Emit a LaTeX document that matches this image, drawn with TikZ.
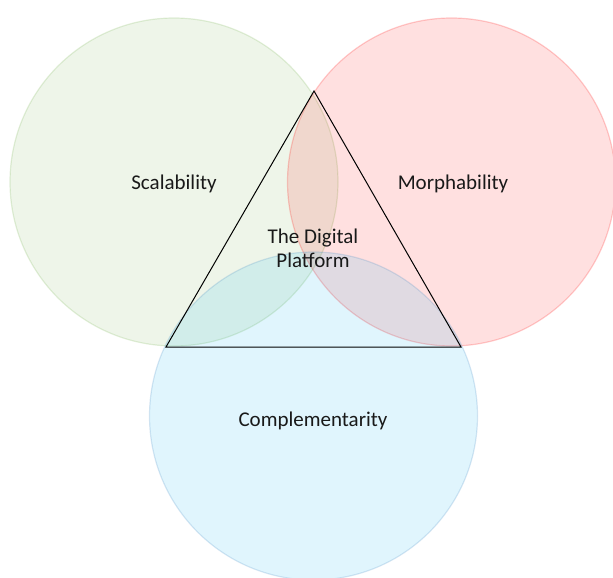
\documentclass[tikz,border=0pt]{standalone}
\usepackage{fontspec}
\setmainfont{Carlito}
\definecolor{cgreen}{RGB}{112,173,71}
\definecolor{cred}{RGB}{255,0,0}
\definecolor{cblue}{RGB}{0,176,240}
\definecolor{cblueline}{RGB}{60,130,190}
\begin{document}
\begin{tikzpicture}[x=1pt,y=-1pt,
  venn/.style={circle, minimum size=328pt, inner sep=0pt, fill opacity=0.12, draw opacity=0.2, line width=1.2pt},
  lbl/.style={font=\fontsize{21}{24}\selectfont, text=black!90, align=center},
  tri/.style={draw=black, line width=1pt}]
\useasboundingbox (0,0) rectangle (613,578);
\clip (0,0) rectangle (613,578);
\node[venn, fill=cgreen, draw=cgreen] (g) at (174,182) {};
\node[venn, fill=cred, draw=cred] (r) at (451.5,182) {};
\node[venn, fill=cblue, draw=cblueline] (b) at (313.5,416) {};
\coordinate (A) at (314,91);
\coordinate (L) at (166,347);
\coordinate (R) at (461,347);
\draw[tri] (A) -- (L) -- (R) -- cycle;
\node[lbl] (ls) at (174,184) {Scalability};
\node[lbl] (lm) at (453,184) {Morphability};
\node[lbl] (lp) at (313,248) {The Digital\\Platform};
\node[lbl] (lc) at (313,421) {Complementarity};
\end{tikzpicture}
\end{document}
